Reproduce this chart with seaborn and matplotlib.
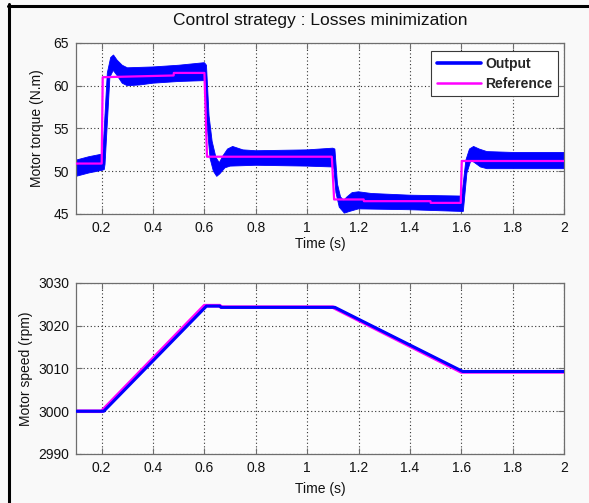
import numpy as np
import pandas as pd
import matplotlib
matplotlib.use("Agg")
import matplotlib.pyplot as plt
from matplotlib.lines import Line2D
from matplotlib.ticker import FormatStrFormatter, MultipleLocator
import seaborn as sns

# ---- Motor torque: reference (stepped) ----
ref_time = [0.10, 0.200, 0.204, 0.480, 0.481, 0.600, 0.610, 1.096, 1.105,
            1.220, 1.221, 1.480, 1.481, 1.598, 1.602, 2.00]
ref_torque = [50.9, 50.9, 61.0, 61.2, 61.5, 61.5, 51.7, 51.7, 46.7,
              46.7, 46.5, 46.5, 46.3, 46.3, 51.2, 51.2]

# ---- Motor torque: output ripple envelope (upper / lower edges) ----
out_upper_time = [0.10, 0.15, 0.20, 0.205, 0.222, 0.235, 0.246, 0.26, 0.28, 0.30,
                  0.40, 0.50, 0.600, 0.608, 0.618, 0.630, 0.645, 0.658, 0.672,
                  0.69, 0.71, 0.75, 0.80, 1.00, 1.100, 1.108, 1.118, 1.130,
                  1.142, 1.155, 1.175, 1.20, 1.25, 1.40, 1.600, 1.603, 1.618,
                  1.632, 1.648, 1.67, 1.70, 1.80, 2.00]
out_upper = [51.3, 51.7, 52.0, 52.3, 61.5, 63.3, 63.6, 63.0, 62.4, 62.1,
             62.2, 62.4, 62.7, 62.4, 56.5, 53.5, 51.6, 51.0, 51.8,
             52.6, 52.9, 52.5, 52.4, 52.5, 52.7, 52.6, 48.5, 47.0,
             46.6, 47.0, 47.5, 47.6, 47.4, 47.2, 47.1, 47.3, 51.3,
             52.6, 52.9, 52.6, 52.3, 52.2, 52.2]

out_lower_time = [0.10, 0.15, 0.20, 0.210, 0.213, 0.232, 0.245, 0.26, 0.28, 0.30,
                  0.35, 0.40, 0.50, 0.600, 0.602, 0.610, 0.622, 0.635, 0.648,
                  0.66, 0.68, 0.70, 0.80, 1.00, 1.100, 1.104, 1.112, 1.125,
                  1.145, 1.165, 1.20, 1.40, 1.600, 1.608, 1.622, 1.638, 1.652,
                  1.675, 1.70, 1.80, 2.00]
out_lower = [49.4, 49.8, 50.1, 50.2, 50.8, 61.0, 61.8, 61.2, 60.3, 60.0,
             60.1, 60.3, 60.5, 60.6, 60.4, 55.5, 51.5, 50.0, 49.4,
             49.7, 50.4, 50.6, 50.7, 50.6, 50.5, 50.3, 47.5, 45.8,
             45.1, 45.3, 45.6, 45.5, 45.3, 45.3, 49.8, 51.3, 51.0,
             50.5, 50.3, 50.3, 50.3]

# ---- Motor speed ----
speed_ref_time = [0.10, 0.200, 0.600, 0.660, 0.665, 1.100, 1.600, 2.00]
speed_ref = [3000.0, 3000.0, 3024.7, 3024.7, 3024.35, 3024.35, 3009.2, 3009.2]
speed_out_time = [0.10, 0.208, 0.608, 0.660, 0.665, 1.108, 1.606, 2.00]
speed_out = [3000.0, 3000.0, 3024.6, 3024.6, 3024.3, 3024.3, 3009.3, 3009.3]

BLUE = "#0000ff"
MAGENTA = "#ff00ff"
BG = "#f9f9f9"

sns.set_style("ticks")
plt.rcParams["font.family"] = ["Liberation Sans", "DejaVu Sans"]
plt.rcParams["axes.edgecolor"] = "#6e6e6e"
plt.rcParams["xtick.color"] = "#6e6e6e"
plt.rcParams["ytick.color"] = "#6e6e6e"
plt.rcParams["xtick.labelcolor"] = "#111111"
plt.rcParams["ytick.labelcolor"] = "#111111"

W, H = 589, 503
fig = plt.figure(figsize=(W / 100, H / 100), dpi=100, facecolor=BG)

ax1 = fig.add_axes([76 / W, 1 - 214 / H, 488 / W, 171 / H])
ax2 = fig.add_axes([76 / W, 1 - 454 / H, 488 / W, 171 / H])

# Torque: output band then reference on top
ax1.fill(np.concatenate([out_upper_time, out_lower_time[::-1]]),
         np.concatenate([out_upper, out_lower[::-1]]),
         color=BLUE, lw=0.6, ec=BLUE, zorder=2)
df_ref = pd.DataFrame({"t": ref_time, "v": ref_torque})
sns.lineplot(data=df_ref, x="t", y="v", ax=ax1, color=MAGENTA, lw=1.6,
             estimator=None, sort=False, zorder=3)

# Speed: reference underneath, output on top
df_sr = pd.DataFrame({"t": speed_ref_time, "v": speed_ref})
df_so = pd.DataFrame({"t": speed_out_time, "v": speed_out})
sns.lineplot(data=df_sr, x="t", y="v", ax=ax2, color=MAGENTA, lw=2.6,
             estimator=None, sort=False, zorder=2)
sns.lineplot(data=df_so, x="t", y="v", ax=ax2, color=BLUE, lw=2.2,
             estimator=None, sort=False, zorder=3)

for ax, ylim, ystep in [(ax1, (45, 65), 5), (ax2, (2990, 3030), 10)]:
    ax.set_facecolor("#fcfcfc")
    ax.set_xlim(0.1, 2.0)
    ax.set_ylim(*ylim)
    ax.xaxis.set_major_locator(MultipleLocator(0.2))
    ax.yaxis.set_major_locator(MultipleLocator(ystep))
    ax.xaxis.set_major_formatter(FormatStrFormatter("%g"))
    ax.yaxis.set_major_formatter(FormatStrFormatter("%g"))
    ax.tick_params(direction="in", length=4, width=0.8, top=True, right=True,
                   labelsize=10, pad=5)
    ax.grid(True, color="#333333", ls=(0, (1, 2.2)), lw=0.8)
    for s in ax.spines.values():
        s.set_linewidth(0.9)
        s.set_visible(True)
    ax.set_xlabel("Time (s)", fontsize=10, color="#111111")

ax1.set_ylabel("Motor torque (N.m)", fontsize=10, color="#111111")
ax2.set_ylabel("Motor speed (rpm)", fontsize=10, color="#111111")
ax1.yaxis.set_label_coords(-0.066, 0.5)
ax2.yaxis.set_label_coords(-0.088, 0.5)
ax1.xaxis.set_label_coords(0.5, -0.135)
ax2.xaxis.set_label_coords(0.5, -0.165)

fig.text(320 / W, 1 - 20 / H, "Control strategy : Losses minimization",
         ha="center", va="center", fontsize=12.5, color="#111111")

handles = [Line2D([], [], color=BLUE, lw=2.6), Line2D([], [], color=MAGENTA, lw=1.8)]
leg = ax1.legend(handles, ["Output", "Reference"], loc="upper right",
                 bbox_to_anchor=(558 / W, 1 - 51 / H), bbox_transform=fig.transFigure,
                 borderaxespad=0, fancybox=False, framealpha=1, edgecolor="#3a3a3a",
                 facecolor="white", prop={"weight": "bold", "size": 10},
                 handlelength=3.2, handletextpad=0.3, labelspacing=0.45,
                 borderpad=0.4)
leg.get_frame().set_linewidth(0.8)
leg.set_zorder(10)

# Frame lines along the left and top edges
fig.add_artist(Line2D([8.7 / W, 8.7 / W], [0, 1 - 4 / H], color="black", lw=2.2,
                      transform=fig.transFigure))
fig.add_artist(Line2D([7.6 / W, 1], [1 - 5.5 / H, 1 - 5.5 / H], color="black", lw=2.2,
                      transform=fig.transFigure))

fig.savefig("out.png", dpi=100, facecolor=BG)
